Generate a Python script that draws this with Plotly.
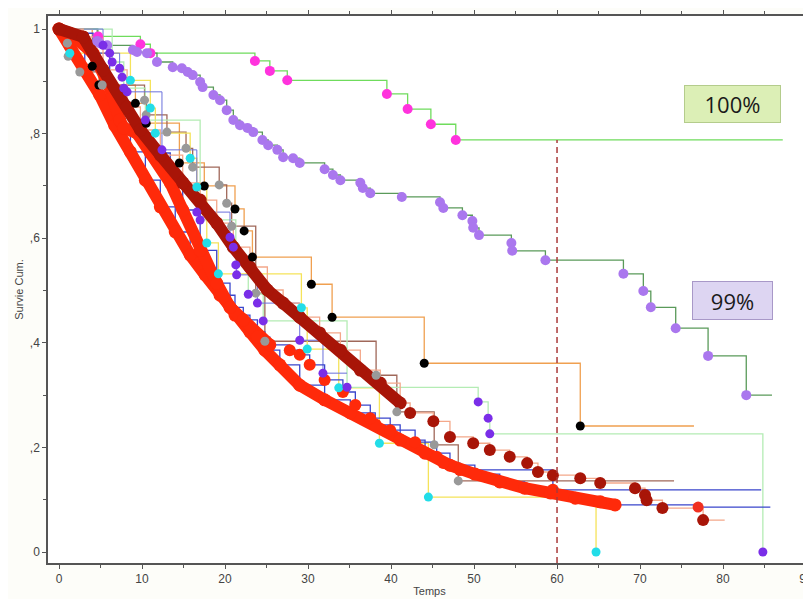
import plotly.graph_objects as go

# ---------------- data ----------------
# Curve "100%": green step line, magenta dots
ga_t = [0, 4.7, 9.8, 11.0, 23.6, 25.4, 27.5, 39.5, 42.0, 44.8, 47.8]
ga_s = [1, 0.986, 0.971, 0.954, 0.939, 0.920, 0.902, 0.876, 0.847, 0.818, 0.788]
ga_end = 87.2

# Curve "99%": dark green step line, light purple dots
p_t = [0, 4.6, 4.9, 5.8, 8.9, 9.4, 10.6, 11.8, 13.7, 14.8, 15.5, 16.1, 17.0, 17.3, 18.6, 19.4,
       20.2, 21.0, 21.8, 22.7, 23.4, 24.5, 25.2, 26.3, 27.0, 28.2, 29.0, 32.0, 33.0, 33.9, 36.3,
       36.6, 37.5, 41.3, 45.9, 46.3, 48.6, 49.8, 49.9, 50.6, 54.5, 54.6, 58.6, 68.0, 70.4, 71.3,
       74.3, 78.2, 82.8]
p_s = [1, 0.977, 0.973, 0.969, 0.960, 0.956, 0.954, 0.937, 0.927, 0.925, 0.918, 0.912, 0.899,
       0.889, 0.874, 0.864, 0.845, 0.826, 0.816, 0.811, 0.803, 0.788, 0.778, 0.769, 0.755, 0.753,
       0.744, 0.732, 0.721, 0.711, 0.706, 0.696, 0.686, 0.679, 0.669, 0.658, 0.644, 0.633, 0.620,
       0.606, 0.591, 0.576, 0.558, 0.532, 0.499, 0.468, 0.428, 0.375, 0.300]
p_end = 85.9

# Orange line, black dots
ob_t = [0, 4.0, 4.8, 9.2, 10.5, 14.5, 17.5, 21.2, 22.3, 23.3, 30.4, 32.9, 44.0, 62.8]
ob_s = [1, 0.929, 0.893, 0.858, 0.820, 0.744, 0.700, 0.656, 0.614, 0.564, 0.512, 0.449, 0.361, 0.241]
ob_end = 76.5

# Brown line, grey dots
bg_t = [0, 1.0, 1.1, 2.5, 5.2, 10.3, 10.5, 13.0, 15.3, 16.1, 19.3, 20.2, 20.8, 23.7, 24.8,
        38.2, 40.7, 45.2, 48.1]
bg_s = [1, 0.973, 0.948, 0.918, 0.893, 0.864, 0.836, 0.803, 0.772, 0.736, 0.702, 0.667, 0.623,
        0.495, 0.403, 0.338, 0.268, 0.205, 0.136]
bg_end = 74.1

# Yellow line, cyan dots
yc_t = [0, 1.3, 8.6, 11.0, 11.6, 15.8, 16.6, 17.8, 19.2, 29.2, 29.9, 33.7, 38.6, 44.5, 64.7]
yc_s = [1, 0.954, 0.902, 0.849, 0.801, 0.753, 0.698, 0.591, 0.532, 0.467, 0.388, 0.314, 0.208,
        0.105, 0.0]
yc_end = 64.7

# Blue line, violet dots
v1_t = [0, 5.3, 6.1, 7.3, 7.6, 8.2, 12.4, 16.6, 20.6, 21.0, 21.4, 23.9, 29.0, 31.8]
v1_s = [1, 0.969, 0.954, 0.925, 0.908, 0.880, 0.769, 0.650, 0.602, 0.583, 0.530, 0.476, 0.405, 0.342]
v1_end = 34.7

# Light green line, violet dots
v2_t = [0, 6.4, 7.8, 10.4, 17.0, 21.3, 22.8, 24.6, 34.7, 50.5, 51.7, 51.9, 84.8]
v2_s = [1, 0.937, 0.887, 0.826, 0.635, 0.549, 0.493, 0.442, 0.315, 0.287, 0.256, 0.226, 0.0]
v2_end = 84.8

# Red group 1 (dense dots)
r1_t = [0, 1.3, 3.1, 4.9, 6.7, 8.6, 10.4, 12.2, 14.0, 15.8, 17.6, 19.4, 21.2, 23.0, 24.8, 26.6,
        29.0, 32.0, 35.1, 38.1, 41.1, 44.1, 47.1, 50.1, 53.1, 56.1, 59.2, 62.2, 65.2, 67.0, 77.0]
r1_s = [1, 0.969, 0.922, 0.874, 0.816, 0.765, 0.711, 0.660, 0.612, 0.568, 0.530, 0.491, 0.453,
        0.421, 0.386, 0.358, 0.319, 0.291, 0.266, 0.243, 0.214, 0.189, 0.166, 0.149, 0.134,
        0.122, 0.113, 0.103, 0.096, 0.090, 0.086]
r1_end = 85.7
r1_dense = 30

# Red group 2
r2_t = [0, 1.3, 4.1, 6.1, 7.3, 7.8, 9.4, 11.0, 13.4, 14.9, 17.0, 19.0, 20.6, 22.2, 23.9, 25.4,
        27.8, 29.0, 30.2, 32.0, 34.2, 35.7, 37.5, 39.9, 42.9, 45.5, 46.3, 48.3, 59.5]
r2_s = [1, 0.992, 0.954, 0.889, 0.826, 0.811, 0.801, 0.763, 0.706, 0.654, 0.577, 0.514, 0.468,
        0.444, 0.411, 0.396, 0.386, 0.377, 0.358, 0.329, 0.306, 0.281, 0.256, 0.233, 0.210,
        0.182, 0.170, 0.157, 0.119]
r2_end = 84.6
r2_dense = 16

# Dark red group
mr_t = [0, 2.9, 5.3, 8.2, 9.8, 12.2, 14.9, 17.0, 19.0, 21.0, 23.0, 25.1, 27.0, 29.0, 31.4, 33.9,
        36.3, 38.7, 41.1, 42.3, 45.1, 47.1, 49.9, 51.9, 54.3, 56.4, 57.7, 59.5, 62.8, 65.2, 69.4,
        70.6, 70.8, 72.7, 77.6]
mr_s = [1, 0.985, 0.922, 0.851, 0.807, 0.759, 0.706, 0.673, 0.629, 0.583, 0.545, 0.501, 0.476,
        0.449, 0.419, 0.386, 0.348, 0.323, 0.285, 0.266, 0.250, 0.220, 0.208, 0.195, 0.182,
        0.170, 0.153, 0.147, 0.141, 0.132, 0.122, 0.109, 0.099, 0.084, 0.061]
mr_end = 80.2
mr_dense = 19

cutoff_t = 60
x_ticks = [0, 10, 20, 30, 40, 50, 60, 70, 80, 90]
y_ticks = [0, 0.2, 0.4, 0.6, 0.8, 1.0]
y_labels = ["0", ",2", ",4", ",6", ",8", "1"]
x_range = [-1.33, 90.6]
y_range = [-0.021, 1.025]

# ---------------- figure ----------------
fig = go.Figure()


def step_line(t, s, end, color, width=1.3):
    fig.add_trace(go.Scatter(x=t + [end], y=s + [s[-1]], mode="lines", line_shape="hv",
                             line=dict(color=color, width=width), hoverinfo="skip"))


def dots(t, s, color, size=9):
    fig.add_trace(go.Scatter(x=t, y=s, mode="markers",
                             marker=dict(color=color, size=size, line=dict(width=0))))


def band(t, s, color, width=12, size=13):
    fig.add_trace(go.Scatter(x=t, y=s, mode="lines+markers",
                             line=dict(color=color, width=width),
                             marker=dict(color=color, size=size, line=dict(width=0))))


# thin step lines
step_line(ga_t, ga_s, ga_end, "#6fdc5c")
step_line(p_t, p_s, p_end, "#5a9a5a")
step_line(ob_t, ob_s, ob_end, "#f0a050")
step_line(bg_t, bg_s, bg_end, "#a0685a")
step_line(yc_t, yc_s, yc_end, "#f5e35a")
step_line(v2_t, v2_s, v2_end, "#b4ecb4")
step_line(v1_t, v1_s, v1_end, "#6a70dc", 1.0)
step_line(r2_t, r2_s, r2_end, "#3a46cc")
step_line(r1_t, r1_s, r1_end, "#3a46cc")
step_line(mr_t, mr_s, mr_end, "#f4a88a")

# dense red bands
band(r1_t[:r1_dense], r1_s[:r1_dense], "#ff2a0a")
dots(r1_t[r1_dense:], r1_s[r1_dense:], "#f03020", 11)
band(r2_t[:r2_dense], r2_s[:r2_dense], "#ff2a0a")
dots(r2_t[r2_dense:], r2_s[r2_dense:], "#ff2a0a", 12)
band(mr_t[:mr_dense], mr_s[:mr_dense], "#a81508")
dots(mr_t[mr_dense:], mr_s[mr_dense:], "#a81508", 12)

# dots of the other groups
dots(ga_t[1:], ga_s[1:], "#ff33dd", 10)
dots(p_t[1:], p_s[1:], "#aa77ee", 10)
dots(ob_t[1:], ob_s[1:], "#000000", 9)
dots(bg_t[1:], bg_s[1:], "#999999", 9)
dots(yc_t[1:], yc_s[1:], "#22dde8", 9)
dots(v1_t[1:], v1_s[1:], "#7a2ee8", 9)
dots(v2_t[1:], v2_s[1:], "#7a2ee8", 9)

# dashed cut-off line at 60
fig.add_trace(go.Scatter(x=[cutoff_t, cutoff_t], y=[y_range[0], ga_s[-1]], mode="lines",
                         line=dict(color="#a83a3a", width=1.5, dash="6px,4px"), hoverinfo="skip"))

fig.add_annotation(x=81.2, y=0.857, xref="x", yref="y", text="100%", showarrow=False,
                   font=dict(family="Open Sans, Liberation Sans, Arial", size=22, color="#1a1a1a"),
                   bgcolor="#dcefb6", bordercolor="#b4cc8c", borderwidth=1,
                   width=93, height=34)
fig.add_annotation(x=81.1, y=0.481, xref="x", yref="y", text="99%", showarrow=False,
                   font=dict(family="Open Sans, Liberation Sans, Arial", size=22, color="#1a1a1a"),
                   bgcolor="#ddd5f2", bordercolor="#a898c8", borderwidth=1,
                   width=77, height=35)

axis_font = dict(family="Liberation Sans, Arial", size=12, color="#444")
fig.update_layout(
    width=811, height=599,
    margin=dict(l=40, r=8, t=8, b=44),
    paper_bgcolor="#fdfdf9", plot_bgcolor="white",
    showlegend=False,
    xaxis=dict(range=x_range, tickvals=x_ticks, ticks="outside", ticklen=4, automargin=False,
               tickcolor="#555", showgrid=False, zeroline=False, showline=True,
               linecolor="#555", linewidth=1.5, mirror="ticks", tickfont=axis_font,
               minor=dict(dtick=5, tick0=0, ticks="outside", ticklen=3, tickcolor="#555"),
               title=dict(text="Temps", font=dict(family="Liberation Sans, Arial", size=11, color="#444"),
                          standoff=2)),
    yaxis=dict(range=y_range, tickvals=y_ticks, ticktext=y_labels, ticks="outside", automargin=False,
               ticklen=4, tickcolor="#555", showgrid=False, zeroline=False, showline=True,
               linecolor="#555", linewidth=1.5, tickfont=axis_font,
               minor=dict(dtick=0.1, tick0=0, ticks="outside", ticklen=3, tickcolor="#555"),
               title=dict(text="Survie Cum.", font=dict(family="Liberation Sans, Arial", size=11, color="#444"),
                          standoff=4)),
)

fig.write_html("out.html")
